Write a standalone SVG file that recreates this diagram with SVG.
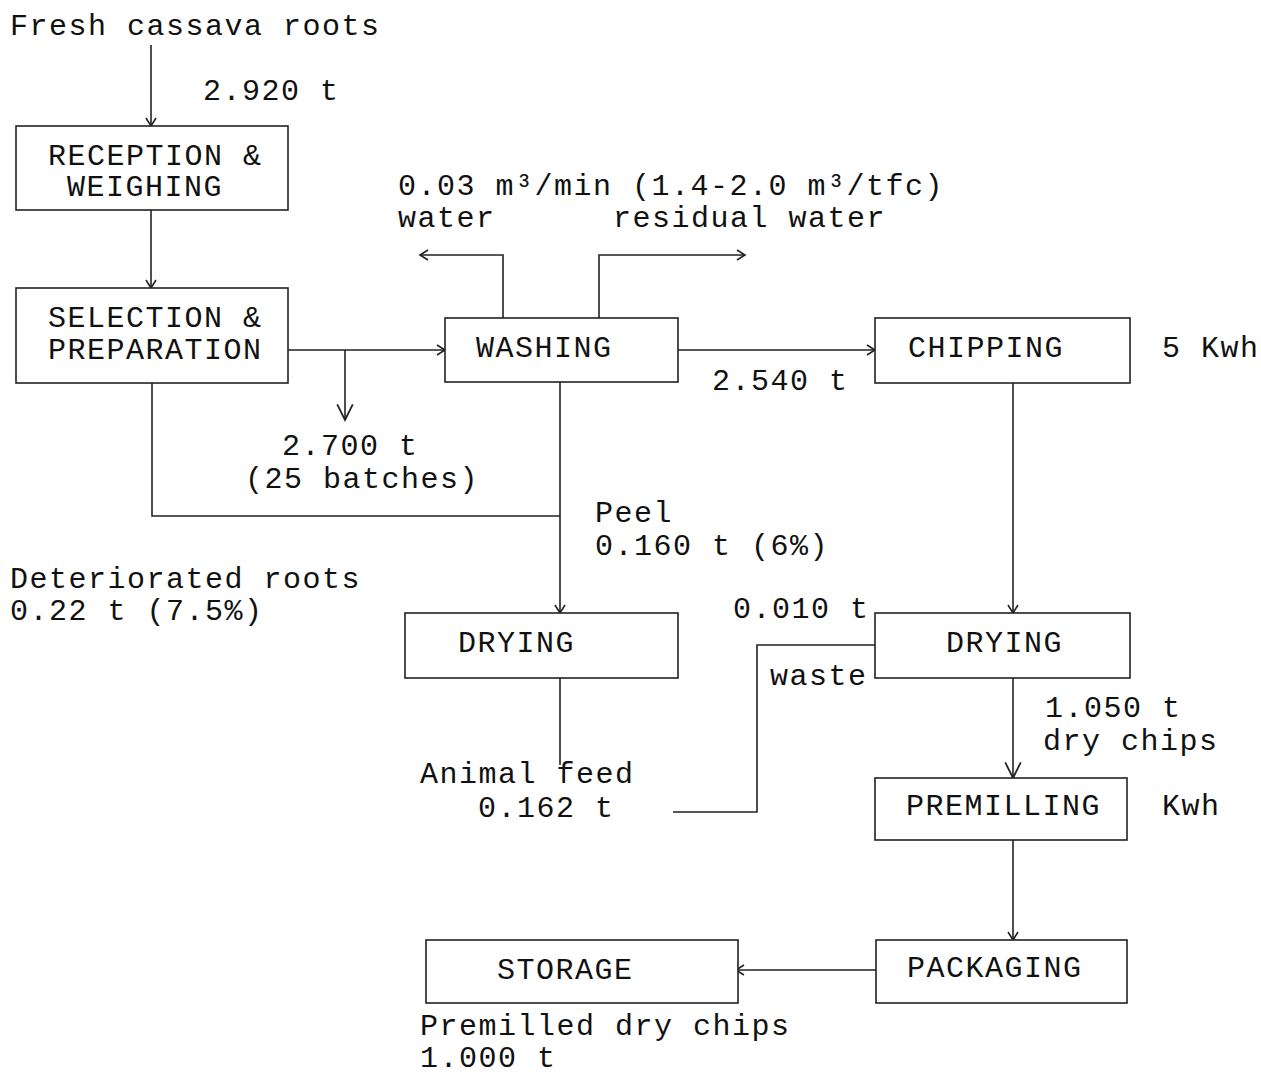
<svg xmlns="http://www.w3.org/2000/svg" width="1261" height="1077" viewBox="0 0 1261 1077">
<style>
text{font-family:"Liberation Mono","Courier New",monospace;font-size:30px;letter-spacing:1.5px;fill:#111}
.box{fill:#fff;stroke:#222;stroke-width:1.6}
.ln{fill:none;stroke:#222;stroke-width:1.6}
</style>
<defs>
<marker id="ah" markerUnits="userSpaceOnUse" markerWidth="16" markerHeight="16" viewBox="-10 -8 12 16" refX="0" refY="0" orient="auto">
<path d="M-8,-5 L0,0 L-8,5" fill="none" stroke="#222" stroke-width="1.6"/>
</marker>
<marker id="ahb" markerUnits="userSpaceOnUse" markerWidth="20" markerHeight="20" viewBox="-16 -9 18 18" refX="0" refY="0" orient="auto">
<path d="M-14,-7 L0,0 L-14,7" fill="none" stroke="#222" stroke-width="1.6"/>
</marker>
</defs>
<rect width="1261" height="1077" fill="#fff"/>
<g id="connectors">
<path class="ln" d="M151,45 V126" marker-end="url(#ah)"/>
<path class="ln" d="M151,210 V288" marker-end="url(#ah)"/>
<path class="ln" d="M288,350 H445" marker-end="url(#ah)"/>
<path class="ln" d="M345,350 V420" marker-end="url(#ahb)"/>
<path class="ln" d="M152,383 V516 H560"/>
<path class="ln" d="M560,382 V613" marker-end="url(#ah)"/>
<path class="ln" d="M503,318 V255 H420" marker-end="url(#ah)"/>
<path class="ln" d="M599,318 V255 H745" marker-end="url(#ah)"/>
<path class="ln" d="M678,350 H875" marker-end="url(#ah)"/>
<path class="ln" d="M1013,383 V613" marker-end="url(#ah)"/>
<path class="ln" d="M875,645 H757 V812 H673"/>
<path class="ln" d="M560,678 V765"/>
<path class="ln" d="M1013,678 V778" marker-end="url(#ahb)"/>
<path class="ln" d="M1013,840 V940" marker-end="url(#ah)"/>
<path class="ln" d="M876,970 H736" marker-end="url(#ah)"/>
</g>
<g id="reception"><rect class="box" x="16" y="126" width="272" height="84"/><text x="48" y="165">RECEPTION &amp;</text><text x="67" y="196">WEIGHING</text></g>
<g id="selection"><rect class="box" x="16" y="288" width="272" height="95"/><text x="48" y="327">SELECTION &amp;</text><text x="48" y="359">PREPARATION</text></g>
<g id="washing"><rect class="box" x="445" y="318" width="233" height="64"/><text x="476" y="357">WASHING</text></g>
<g id="chipping"><rect class="box" x="875" y="318" width="255" height="65"/><text x="908" y="357">CHIPPING</text></g>
<g id="drying-peel"><rect class="box" x="405" y="613" width="273" height="65"/><text x="458" y="652">DRYING</text></g>
<g id="drying-chips"><rect class="box" x="875" y="613" width="255" height="65"/><text x="946" y="652">DRYING</text></g>
<g id="premilling"><rect class="box" x="875" y="778" width="252" height="62"/><text x="906" y="815">PREMILLING</text></g>
<g id="packaging"><rect class="box" x="876" y="940" width="251" height="63"/><text x="907" y="977">PACKAGING</text></g>
<g id="storage"><rect class="box" x="426" y="940" width="312" height="63"/><text x="497" y="979">STORAGE</text></g>
<g id="labels">
<text x="10" y="35">Fresh cassava roots</text>
<text x="203" y="100">2.920 t</text>
<text x="398" y="195">0.03 m³/min (1.4-2.0 m³/tfc)</text>
<text x="398" y="227">water</text>
<text x="613" y="227">residual water</text>
<text x="712" y="390">2.540 t</text>
<text x="1162" y="357">5 Kwh</text>
<text x="282" y="455">2.700 t</text>
<text x="245" y="488">(25 batches)</text>
<text x="595" y="522">Peel</text>
<text x="595" y="555">0.160 t (6%)</text>
<text x="10" y="588">Deteriorated roots</text>
<text x="10" y="620">0.22 t (7.5%)</text>
<text x="733" y="618">0.010 t</text>
<text x="770" y="685">waste</text>
<text x="1045" y="717">1.050 t</text>
<text x="1043" y="750">dry chips</text>
<text x="420" y="783">Animal feed</text>
<text x="478" y="817">0.162 t</text>
<text x="1162" y="815">Kwh</text>
<text x="420" y="1035">Premilled dry chips</text>
<text x="420" y="1067">1.000 t</text>
</g>
</svg>
